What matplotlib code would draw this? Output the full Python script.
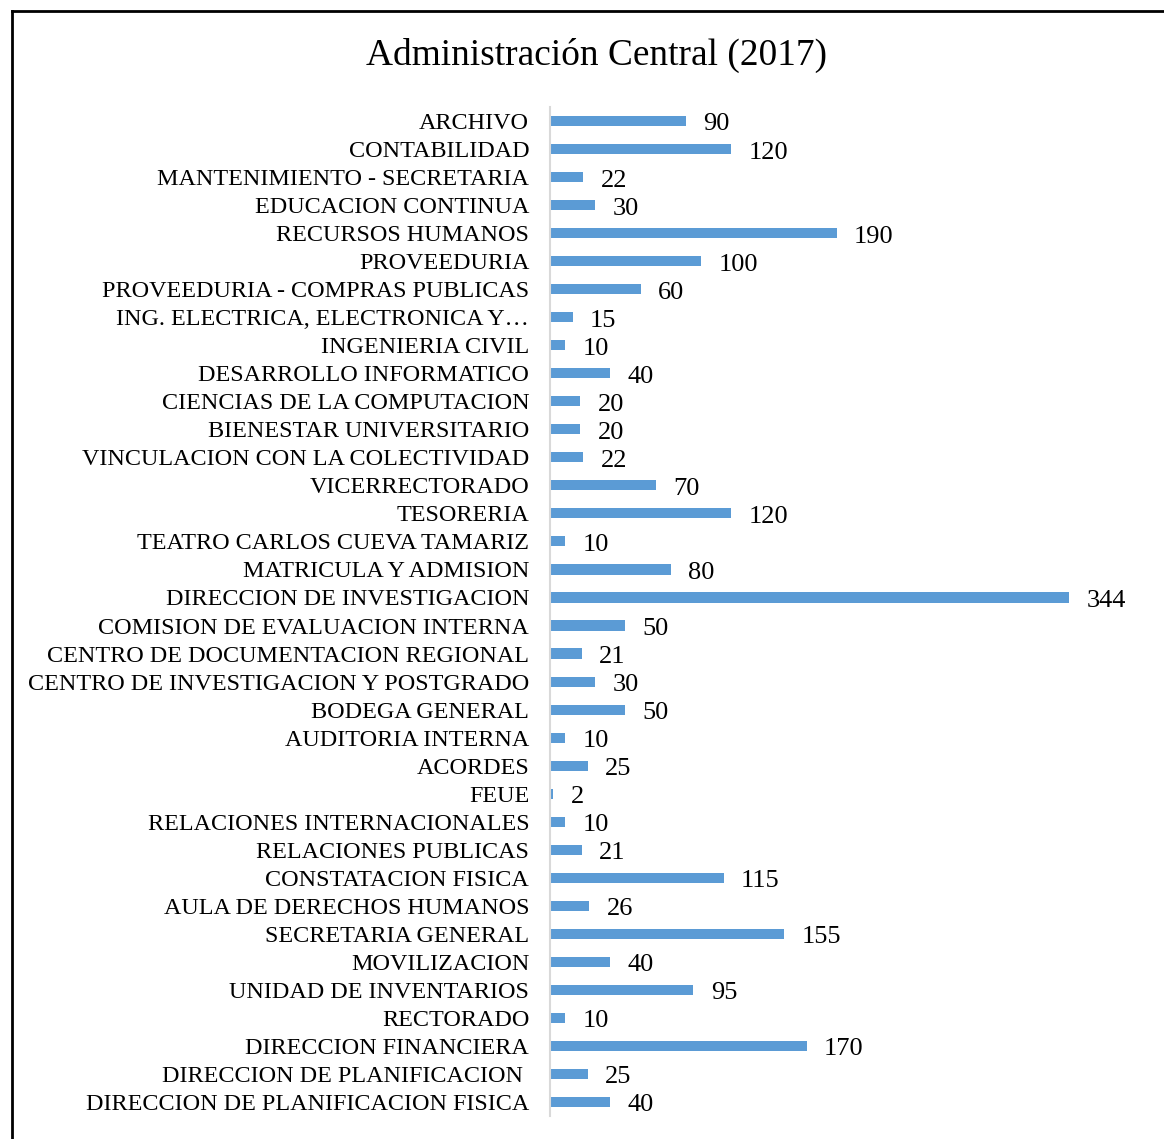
import matplotlib.pyplot as plt
from matplotlib.lines import Line2D

plt.rcParams['font.family'] = ['Liberation Serif', 'DejaVu Serif']

categories = [
    "ARCHIVO", "CONTABILIDAD", "MANTENIMIENTO - SECRETARIA", "EDUCACION CONTINUA",
    "RECURSOS HUMANOS", "PROVEEDURIA", "PROVEEDURIA - COMPRAS PUBLICAS",
    "ING. ELECTRICA, ELECTRONICA Y\u2026", "INGENIERIA CIVIL", "DESARROLLO INFORMATICO",
    "CIENCIAS DE LA COMPUTACION", "BIENESTAR UNIVERSITARIO",
    "VINCULACION CON LA COLECTIVIDAD", "VICERRECTORADO", "TESORERIA",
    "TEATRO CARLOS CUEVA TAMARIZ", "MATRICULA Y ADMISION", "DIRECCION DE INVESTIGACION",
    "COMISION DE EVALUACION INTERNA", "CENTRO DE DOCUMENTACION REGIONAL",
    "CENTRO DE INVESTIGACION Y POSTGRADO", "BODEGA GENERAL", "AUDITORIA INTERNA",
    "ACORDES", "FEUE", "RELACIONES INTERNACIONALES", "RELACIONES PUBLICAS",
    "CONSTATACION FISICA", "AULA DE DERECHOS HUMANOS", "SECRETARIA GENERAL",
    "MOVILIZACION", "UNIDAD DE INVENTARIOS", "RECTORADO", "DIRECCION FINANCIERA",
    "DIRECCION DE PLANIFICACION ", "DIRECCION DE PLANIFICACION FISICA",
]
values = [90, 120, 22, 30, 190, 100, 60, 15, 10, 40, 20, 20, 22, 70, 120, 10, 80,
          344, 50, 21, 30, 50, 10, 25, 2, 10, 21, 115, 26, 155, 40, 95, 10, 170, 25, 40]

W, H = 1164, 1139
fig = plt.figure(figsize=(W / 100, H / 100), dpi=100)

# frame (left and top edges visible in the source image)
fig.add_artist(Line2D([12 / W, 12 / W], [0, 1 - 11 / H], color='black', lw=2))
fig.add_artist(Line2D([12 / W, 1], [1 - 11 / H, 1 - 11 / H], color='black', lw=2))

xmax = 400
ax = fig.add_axes([550 / W, 1 - 1116 / H, xmax * 1.509 / W, (1116 - 107) / H])
n = len(categories)
ypos = list(range(n))
ax.barh(ypos, values, height=0.36, color='#5B9BD5')
ax.set_ylim(n - 0.5, -0.5)
ax.set_xlim(0, xmax)
ax.set_yticks(ypos)
ax.set_yticklabels(categories, fontsize=17.4)
ax.tick_params(axis='y', length=0, pad=15)
ax.set_xticks([])
for s in ['top', 'right', 'bottom']:
    ax.spines[s].set_visible(False)
ax.spines['left'].set_color('#d9d9d9')
ax.spines['left'].set_linewidth(1.5)

for y, v in zip(ypos, values):
    ax.annotate(str(v), (v, y), xytext=(12.5, -2.5), textcoords='offset points',
                va='center', ha='left', fontsize=19)

fig.text(597 / W, 1 - 55 / H, "Administración Central (2017)", fontsize=26.9,
         ha='center', va='center')

fig.savefig("out.png", dpi=100)
